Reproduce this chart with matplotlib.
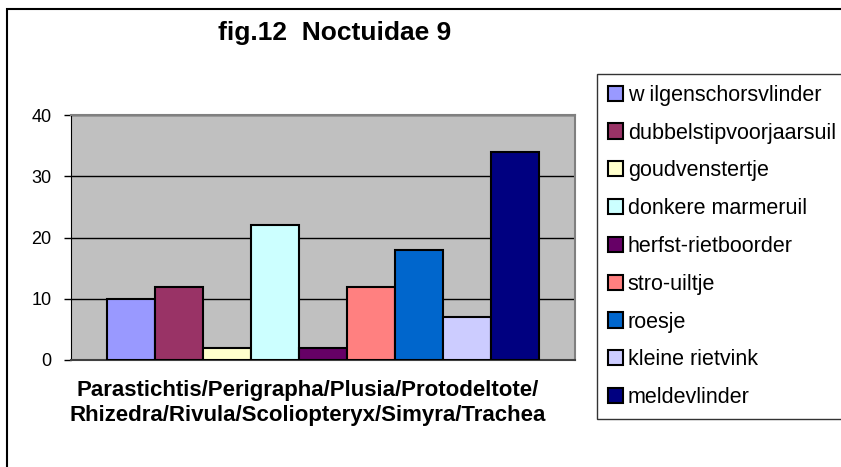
import matplotlib
matplotlib.use("Agg")
import matplotlib.pyplot as plt
import matplotlib.patches as patches
import numpy as np

plt.rcParams['font.family'] = ['Liberation Sans', 'DejaVu Sans']

# one category, nine species (series)
species = ["w ilgenschorsvlinder", "dubbelstipvoorjaarsuil", "goudvenstertje",
           "donkere marmeruil", "herfst-rietboorder", "stro-uiltje", "roesje",
           "kleine rietvink", "meldevlinder"]
counts = [10, 12, 2, 22, 2, 12, 18, 7, 34]
colors = ["#9999FF", "#993366", "#FFFFCC", "#CCFFFF", "#660066",
          "#FF8080", "#0066CC", "#CCCCFF", "#000080"]
yticks = [0, 10, 20, 30, 40]
category = "Parastichtis/Perigrapha/Plusia/Protodeltote/\nRhizedra/Rivula/Scoliopteryx/Simyra/Trachea"

W, H = 841, 467
fig = plt.figure(figsize=(W / 100, H / 100), dpi=100)
ax = fig.add_axes([71 / W, 1 - 360 / H, (575 - 71) / W, (360 - 115) / H])
ax.set_facecolor("#C0C0C0")

x = np.arange(len(counts))
for i in range(len(counts)):
    ax.bar(x[i], counts[i], width=1.0, color=colors[i], edgecolor="black",
           linewidth=1.5, label=species[i], zorder=3)

ax.set_xlim(-1.25, len(counts) - 1 + 1.25)
ax.set_ylim(0, 40)
ax.set_yticks(yticks)
ax.set_xticks([])
ax.yaxis.grid(True, color="black", linewidth=1.0, zorder=1)
ax.tick_params(axis="y", length=5, width=1, labelsize=13, pad=9)
for s in ["top", "right"]:
    ax.spines[s].set_color("#808080")
    ax.spines[s].set_linewidth(1.5)
ax.spines["left"].set_color("black")
ax.spines["bottom"].set_color("#404040")
ax.spines["bottom"].set_linewidth(1.5)

fig.text(335 / W, 1 - 33 / H, "fig.12  Noctuidae 9", ha="center", va="center",
         fontsize=19, fontweight="bold")
fig.text(308 / W, 1 - 403 / H, category, ha="center", va="center",
         fontsize=16, fontweight="bold", linespacing=1.3)

leg = fig.legend(loc="upper left", bbox_to_anchor=(597 / W, 1 - 74 / H),
                 bbox_transform=fig.transFigure, borderaxespad=0,
                 fontsize=15.5, frameon=True, fancybox=False, shadow=False,
                 handlelength=0.7, handleheight=0.7, handletextpad=0.23,
                 labelspacing=0.78, borderpad=0.5)
leg.get_frame().set_edgecolor("black")
leg.get_frame().set_linewidth(1.0)

# outer chart frame
fig.patches.append(patches.Rectangle((7 / W, -0.1), 1.2, 1.1 - 9 / H,
                                     transform=fig.transFigure, fill=False,
                                     edgecolor="black", linewidth=1.5))

fig.savefig("out.png", dpi=100)
